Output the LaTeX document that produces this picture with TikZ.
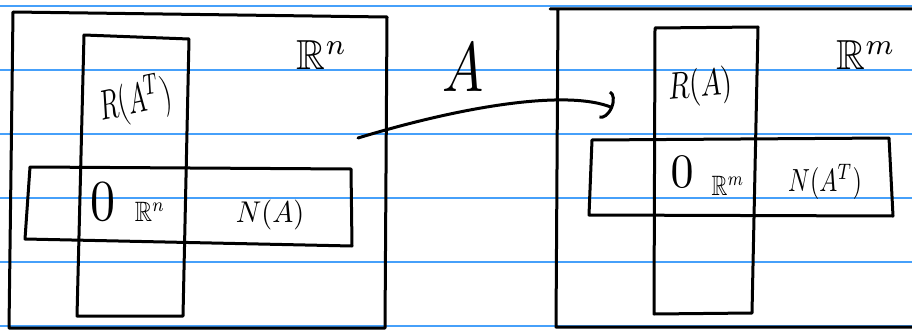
\documentclass[tikz,border=0pt]{standalone}
\usepackage{amssymb}
\usepackage{graphicx}
\usetikzlibrary{arrows.meta}
\begin{document}
\begin{tikzpicture}[x=1pt,y=-1pt,
  ruled/.style={draw={rgb,255:red,70;green,160;blue,250},line width=1.4pt},
  ink/.style={draw=black,line width=3pt,line cap=round,line join=round},
  lbl/.style={inner sep=0pt}]
\useasboundingbox (0,0) rectangle (912,329);
\fill[white] (0,0) rectangle (912,329);
% ruled paper lines
\foreach \yy in {6,70,134,198,262,326} \draw[ruled] (0,\yy) -- (912,\yy);
% left space
\coordinate (LA) at (13,12); \coordinate (LB) at (387,17);
\coordinate (LC) at (385,328); \coordinate (LD) at (9,328);
\draw[ink] (LB) -- (LA) -- (LD) (LD) -- (LC) -- (LB);
% left vertical rect
\coordinate (LV1) at (84,35); \coordinate (LV2) at (189,39);
\coordinate (LV3) at (183,316); \coordinate (LV4) at (77,316);
\draw[ink] (LV1) -- (LV2) -- (LV3) -- (LV4) -- cycle;
% left horizontal rect
\coordinate (LH1) at (30,167); \coordinate (LH2) at (351,169);
\coordinate (LH3) at (352,246); \coordinate (LH4) at (25,239);
\draw[ink] (LH1) -- (LH2) -- (LH3) -- (LH4) -- cycle;
% left labels
\node[lbl,rotate=12] (RAT) at (135,101) {\scalebox{2.5}[4.2]{$R(A^T)$}};
\node[lbl] (Rn) at (322,55) {\scalebox{4}[4.2]{$\mathbb{R}^n$}};
\node[lbl] (ZeroL) at (103,202) {\scalebox{5}[5.8]{$0$}};
\node[lbl] (ZeroLsub) at (150,212) {\scalebox{2.4}[2.8]{$\mathbb{R}^n$}};
\node[lbl] (NA) at (270,215) {\scalebox{2.8}[3]{$N(A)$}};
% arrow
\coordinate (ArrS) at (358,138);
\coordinate (ArrE) at (613,108);
\draw[ink,-{Arc Barb[length=9pt,width=30pt]}] (ArrS) .. controls (470,104) and (570,90) .. (ArrE);
\node[lbl] (Alab) at (463,68) {\scalebox{5.5}[7]{$A$}};
% right space
\coordinate (RTL) at (550,9); \coordinate (RTR) at (912,9);
\coordinate (RBR) at (912,327); \coordinate (RBL) at (556,327);
\coordinate (RTL2) at (558,9);
\draw[ink] (RTR) -- (RTL) (RTL2) -- (RBL) -- (RBR);
% right vertical rect
\coordinate (RV1) at (655,28); \coordinate (RV2) at (758,27);
\coordinate (RV3) at (752,313); \coordinate (RV4) at (654,314);
\draw[ink] (RV1) -- (RV2) -- (RV3) -- (RV4) -- cycle;
% right horizontal rect
\coordinate (RH1) at (592,140); \coordinate (RH2) at (889,138);
\coordinate (RH3) at (893,216); \coordinate (RH4) at (589,215);
\draw[ink] (RH1) -- (RH2) -- (RH3) -- (RH4) -- cycle;
% right labels
\node[lbl,rotate=5] (RAlab) at (700,87) {\scalebox{2.8}[3.8]{$R(A)$}};
\node[lbl] (Rm) at (866,55) {\scalebox{4}[4.2]{$\mathbb{R}^m$}};
\node[lbl] (ZeroR) at (682,172) {\scalebox{4.6}[4.8]{$0$}};
\node[lbl] (ZeroRsub) at (728,186) {\scalebox{2.2}[2.8]{$\mathbb{R}^m$}};
\node[lbl] (NAT) at (825,182) {\scalebox{2.4}[3.2]{$N(A^T)$}};
\end{tikzpicture}
\end{document}
